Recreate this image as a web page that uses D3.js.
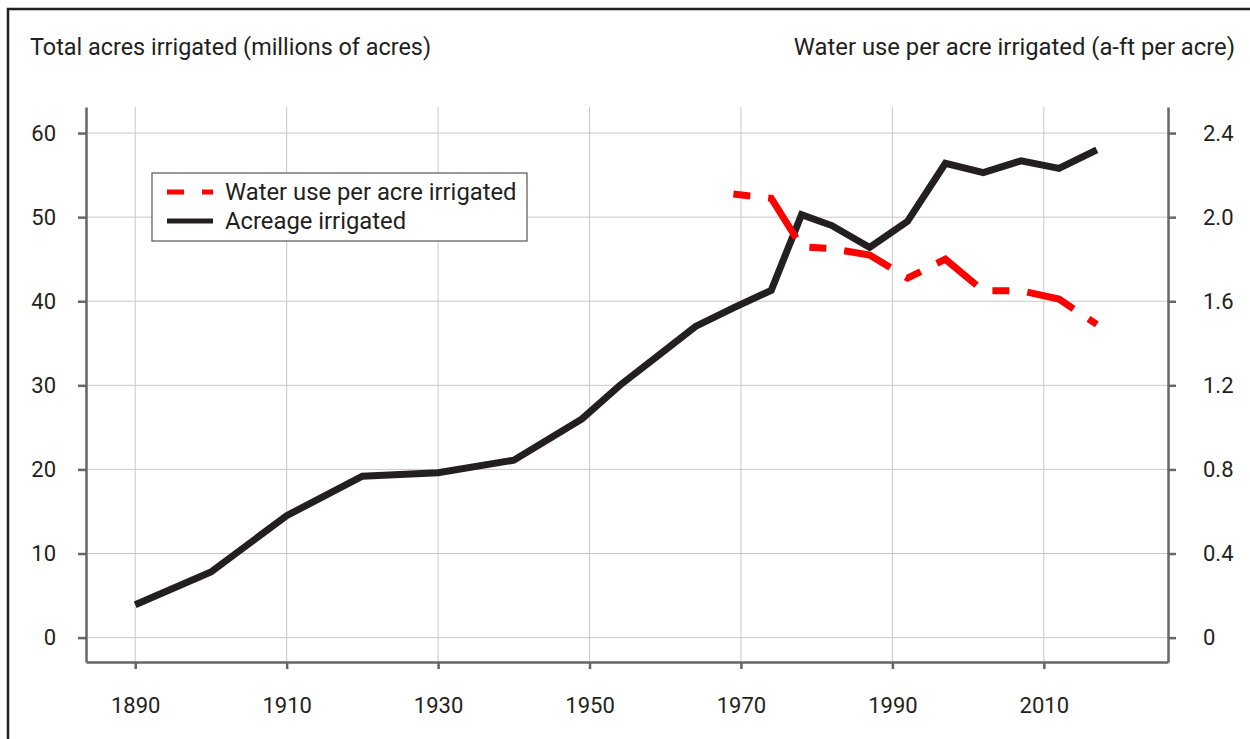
<!DOCTYPE html>
<html>
<head>
<meta charset="utf-8">
<script src="https://cdn.jsdelivr.net/npm/d3@7"></script>
<style>
    body { margin: 0; background: #fff; }
    svg text { font-family: Roboto, "Liberation Sans", sans-serif; fill: #231f20; }
</style>
</head>
<body>
<svg id="chart"></svg>
<script>
// census years and values
const acreYears = [1890, 1900, 1910, 1920, 1930, 1940, 1949, 1954, 1959, 1964, 1969,
    1974, 1978, 1982, 1987, 1992, 1997, 2002, 2007, 2012, 2017];
const acreage = [3.9, 7.8, 14.5, 19.2, 19.6, 21.1, 26.0, 30.0, 33.5, 37.0, 39.2,
    41.3, 50.3, 49.0, 46.4, 49.5, 56.4, 55.3, 56.7, 55.8, 58.0];

const waterYears = [1969, 1974, 1978, 1982, 1987, 1992, 1997, 2002, 2007, 2012, 2017];
const waterUse = [2.11, 2.09, 1.86, 1.85, 1.82, 1.71, 1.80, 1.65, 1.65, 1.61, 1.49];

const xTicks = [1890, 1910, 1930, 1950, 1970, 1990, 2010];
const yLeftTicks = [0, 10, 20, 30, 40, 50, 60];
const yRightTicks = [0, 0.4, 0.8, 1.2, 1.6, 2.0, 2.4];

const legendItems = [
    {name: "Water use per acre irrigated", colour: "#ff0000", dash: "17,18,50,18"},
    {name: "Acreage irrigated", colour: "#231f20", dash: null}
];

const width = 1250, height = 739;
const plot = {left: 86, right: 1168, top: 107, bottom: 662};

const svg = d3.select("#chart")
    .attr("width", width)
    .attr("height", height);

const xScale = d3.scaleLinear()
    .domain([1883.5, 2026.4])
    .range([plot.left, plot.right]);
const yLeft = d3.scaleLinear()
    .domain([-2.9, 63.1])
    .range([plot.bottom, plot.top]);
const yRight = d3.scaleLinear()
    .domain([-2.9 / 25, 63.1 / 25])
    .range([plot.bottom, plot.top]);

// outer frame, runs off the right and bottom edges
svg.append("rect")
    .attr("x", 8).attr("y", 9)
    .attr("width", 1260).attr("height", 760)
    .attr("fill", "none")
    .attr("stroke", "#231f20")
    .attr("stroke-width", 2.5);

// titles
svg.append("text")
    .attr("x", 30).attr("y", 55)
    .style("font-size", "23.4px")
    .text("Total acres irrigated (millions of acres)");
svg.append("text")
    .attr("x", 1235).attr("y", 55)
    .attr("text-anchor", "end")
    .style("font-size", "23.8px")
    .text("Water use per acre irrigated (a-ft per acre)");

// grid
const grid = svg.append("g").attr("class", "grid")
    .attr("stroke", "#c8c8c8")
    .attr("stroke-width", 1);
grid.selectAll(".vgrid").data(xTicks)
    .enter().append("line")
    .attr("x1", d => xScale(d)).attr("x2", d => xScale(d))
    .attr("y1", plot.top).attr("y2", plot.bottom);
grid.selectAll(".hgrid").data(yLeftTicks)
    .enter().append("line")
    .attr("x1", plot.left).attr("x2", plot.right)
    .attr("y1", d => yLeft(d)).attr("y2", d => yLeft(d));

// axes
function styleAxis(g) {
    g.selectAll("path, line").attr("stroke", "#666").attr("stroke-width", 2.5);
    g.selectAll("text").style("font-size", "22px").attr("fill", "#231f20");
}

svg.append("g")
    .attr("transform", "translate(0," + plot.bottom + ")")
    .call(d3.axisBottom(xScale).tickValues(xTicks).tickFormat(d3.format("d"))
        .tickSize(7).tickSizeOuter(0).tickPadding(28))
    .call(styleAxis);

svg.append("g")
    .attr("transform", "translate(" + plot.left + ",0)")
    .call(d3.axisLeft(yLeft).tickValues(yLeftTicks)
        .tickSize(8).tickSizeOuter(0).tickPadding(22))
    .call(styleAxis);

svg.append("g")
    .attr("transform", "translate(" + plot.right + ",0)")
    .call(d3.axisRight(yRight).tickValues(yRightTicks)
        .tickFormat(d => d === 0 ? "0" : d3.format(".1f")(d))
        .tickSize(8).tickSizeOuter(0).tickPadding(27))
    .call(styleAxis);

// series
const acreLine = d3.line()
    .x((d, i) => xScale(acreYears[i]))
    .y(d => yLeft(d));
const waterLine = d3.line()
    .x((d, i) => xScale(waterYears[i]))
    .y(d => yRight(d));

svg.append("path")
    .datum(acreage)
    .attr("fill", "none")
    .attr("stroke", "#231f20")
    .attr("stroke-width", 7)
    .attr("stroke-linejoin", "miter")
    .attr("d", acreLine);

svg.append("path")
    .datum(waterUse)
    .attr("fill", "none")
    .attr("stroke", "#ff0000")
    .attr("stroke-width", 7)
    .attr("stroke-dasharray", legendItems[0].dash)
    .attr("stroke-linejoin", "miter")
    .attr("d", waterLine);

// legend
const legend = svg.append("g").attr("transform", "translate(152,173)");
legend.append("rect")
    .attr("width", 375).attr("height", 68)
    .attr("fill", "#fff")
    .attr("stroke", "#555")
    .attr("stroke-width", 1.2);

const legendRow = legend.selectAll(".lineLegend").data(legendItems)
    .enter().append("g")
    .attr("class", "lineLegend")
    .attr("transform", (d, i) => "translate(0," + (19 + i * 29) + ")");

legendRow.append("line")
    .attr("x1", 15).attr("x2", 61)
    .attr("stroke", d => d.colour)
    .attr("stroke-width", 5)
    .attr("stroke-dasharray", d => d.dash);

legendRow.append("text")
    .attr("x", 73)
    .attr("dy", "0.35em")
    .style("font-size", "23.8px")
    .text(d => d.name);
</script>
</body>
</html>
